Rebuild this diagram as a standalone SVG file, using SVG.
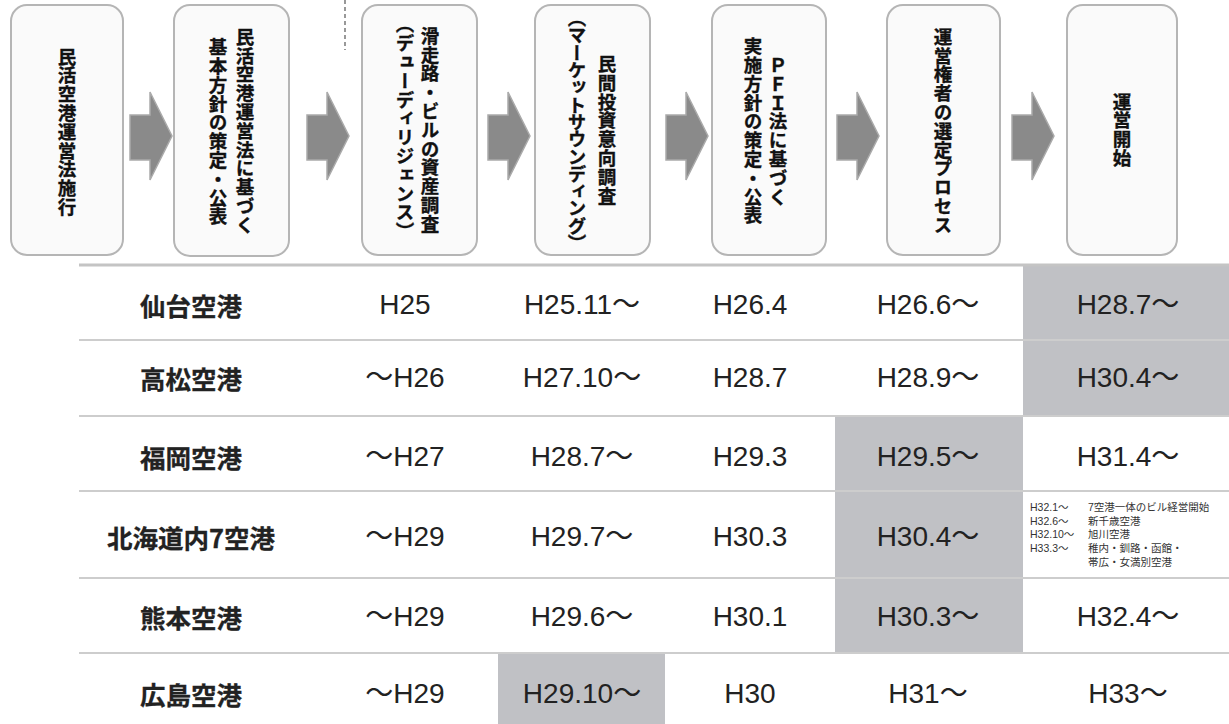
<svg xmlns="http://www.w3.org/2000/svg" width="1229" height="724" viewBox="0 0 1229 724">
<style>
.box{fill:#fafafa;stroke:#b5b5b5;stroke-width:2}
.arr{fill:#8a8a8a;stroke:#ababab;stroke-width:1.5}
.vt{font-family:"Noto Sans CJK JP",sans-serif;font-weight:bold;font-size:18.5px;fill:#111;stroke:#111;stroke-width:0.35;writing-mode:vertical-rl;text-anchor:middle;letter-spacing:0.3px}
.nm{font-family:"Noto Sans CJK JP",sans-serif;font-weight:bold;font-size:25.5px;fill:#222;stroke:#222;stroke-width:0.3;text-anchor:middle;dominant-baseline:central}
.dt{font-family:"Liberation Sans","Noto Sans CJK JP",sans-serif;font-size:28px;fill:#222;text-anchor:middle;dominant-baseline:central}
.sm{font-family:"Liberation Sans","Noto Sans CJK JP",sans-serif;font-size:10.5px;fill:#333}
.rl{stroke:#cdcdcd;stroke-width:2}
.gc{fill:#c0c1c5}
</style>
<defs>
<path id="arrow" d="M0,115 L20,115 L20,92 L42,136 L20,180 L20,160 L0,160 Z"/>
</defs>
<rect width="1229" height="724" fill="#ffffff"/>
<line x1="345" y1="0" x2="345" y2="50" stroke="#555" stroke-width="1.2" stroke-dasharray="4,3"/>

<g id="step1"><rect class="box" x="11" y="5" width="112" height="250" rx="16"/><text class="vt" x="67" y="132">民活空港運営法施行</text></g>
<g id="step2"><rect class="box" x="174" y="5" width="115" height="251" rx="16"/><text class="vt" x="245" y="131">民活空港運営法に基づく</text><text class="vt" x="218" y="132">基本方針の策定・公表</text></g>
<g id="step3"><rect class="box" x="362" y="5" width="115" height="250" rx="16"/><text class="vt" x="430" y="130">滑走路・ビルの資産調査</text><text class="vt" x="405" y="128">（デューディリジェンス）</text></g>
<g id="step4"><rect class="box" x="535" y="5" width="115" height="250" rx="16"/><text class="vt" x="607" y="130">民間投資意向調査</text><text class="vt" x="577" y="130" style="letter-spacing:-1.2px">（マーケットサウンディング）</text></g>
<g id="step5"><rect class="box" x="712" y="5" width="114" height="250" rx="16"/><text class="vt" x="778" y="131">ＰＦＩ法に基づく</text><text class="vt" x="753" y="131">実施方針の策定・公表</text></g>
<g id="step6"><rect class="box" x="887" y="5" width="113" height="250" rx="16"/><text class="vt" x="943" y="131">運営権者の選定プロセス</text></g>
<g id="step7"><rect class="box" x="1067" y="5" width="110" height="250" rx="16"/><text class="vt" x="1122" y="130">運営開始</text></g>

<g id="connectors">
<use href="#arrow" class="arr" x="130" y="0"/>
<use href="#arrow" class="arr" x="307" y="0"/>
<use href="#arrow" class="arr" x="488" y="0"/>
<use href="#arrow" class="arr" x="666" y="0"/>
<use href="#arrow" class="arr" x="837" y="0"/>
<use href="#arrow" class="arr" x="1012" y="0"/>
</g>

<g id="table">
<rect class="gc" x="1023" y="266" width="206" height="150"/>
<rect class="gc" x="835" y="416" width="188" height="237"/>
<rect class="gc" x="498" y="653" width="167" height="71"/>
<line x1="79" y1="265" x2="1229" y2="265" stroke="#c4c4c4" stroke-width="3"/>
<line class="rl" x1="79" y1="340" x2="1229" y2="340"/>
<line class="rl" x1="79" y1="416" x2="1229" y2="416"/>
<line class="rl" x1="79" y1="491" x2="1229" y2="491"/>
<line class="rl" x1="79" y1="578" x2="1229" y2="578"/>
<line class="rl" x1="79" y1="653" x2="1229" y2="653"/>

<g id="row-sendai">
<text class="nm" x="191" y="304">仙台空港</text>
<text class="dt" x="405" y="304">H25</text>
<text class="dt" x="582" y="304">H25.11～</text>
<text class="dt" x="750" y="304">H26.4</text>
<text class="dt" x="928" y="304">H26.6～</text>
<text class="dt" x="1128" y="304">H28.7～</text>
</g>
<g id="row-takamatsu">
<text class="nm" x="191" y="377">高松空港</text>
<text class="dt" x="405" y="377">～H26</text>
<text class="dt" x="582" y="377">H27.10～</text>
<text class="dt" x="750" y="377">H28.7</text>
<text class="dt" x="928" y="377">H28.9～</text>
<text class="dt" x="1128" y="377">H30.4～</text>
</g>
<g id="row-fukuoka">
<text class="nm" x="191" y="456">福岡空港</text>
<text class="dt" x="405" y="456">～H27</text>
<text class="dt" x="582" y="456">H28.7～</text>
<text class="dt" x="750" y="456">H29.3</text>
<text class="dt" x="928" y="456">H29.5～</text>
<text class="dt" x="1128" y="456">H31.4～</text>
</g>
<g id="row-hokkaido">
<text class="nm" x="191" y="536">北海道内7空港</text>
<text class="dt" x="405" y="536">～H29</text>
<text class="dt" x="582" y="536">H29.7～</text>
<text class="dt" x="750" y="536">H30.3</text>
<text class="dt" x="928" y="536">H30.4～</text>
<text class="sm" x="1030" y="511">H32.1～</text><text class="sm" x="1088" y="511">7空港一体のビル経営開始</text>
<text class="sm" x="1030" y="525">H32.6～</text><text class="sm" x="1088" y="525">新千歳空港</text>
<text class="sm" x="1030" y="538">H32.10～</text><text class="sm" x="1088" y="538">旭川空港</text>
<text class="sm" x="1030" y="552">H33.3～</text><text class="sm" x="1088" y="552">稚内・釧路・函館・</text>
<text class="sm" x="1088" y="566">帯広・女満別空港</text>
</g>
<g id="row-kumamoto">
<text class="nm" x="191" y="616">熊本空港</text>
<text class="dt" x="405" y="616">～H29</text>
<text class="dt" x="582" y="616">H29.6～</text>
<text class="dt" x="750" y="616">H30.1</text>
<text class="dt" x="928" y="616">H30.3～</text>
<text class="dt" x="1128" y="616">H32.4～</text>
</g>
<g id="row-hiroshima">
<text class="nm" x="191" y="693">広島空港</text>
<text class="dt" x="405" y="693">～H29</text>
<text class="dt" x="582" y="693">H29.10～</text>
<text class="dt" x="750" y="693">H30</text>
<text class="dt" x="928" y="693">H31～</text>
<text class="dt" x="1128" y="693">H33～</text>
</g>
</g>
</svg>
